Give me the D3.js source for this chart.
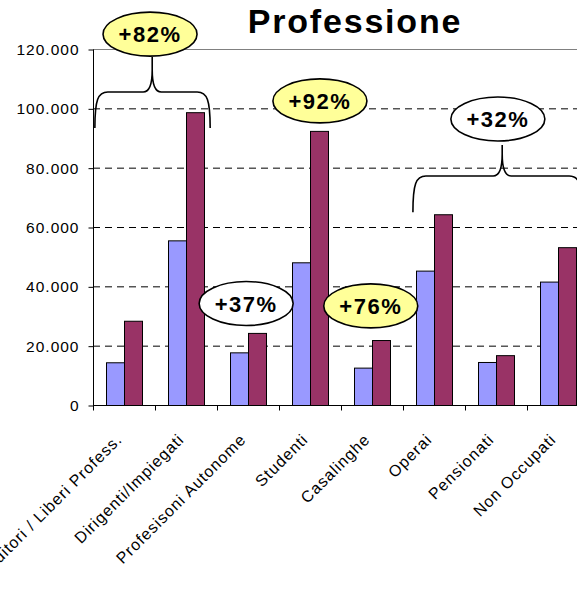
<!DOCTYPE html>
<html>
<head>
<meta charset="utf-8">
<script src="https://cdn.jsdelivr.net/npm/d3@7"></script>
<style>
  html, body { margin: 0; padding: 0; background: #fff; }
  svg { display: block; font-family: Arial, "Liberation Sans", sans-serif; }
</style>
</head>
<body>
<div id="chart"></div>
<script>
// dati
const categories = [
  "Imprenditori / Liberi Profess.",
  "Dirigenti/Impiegati",
  "Profesisoni Autonome",
  "Studenti",
  "Casalinghe",
  "Operai",
  "Pensionati",
  "Non Occupati"
];
const valoriPrima = [14400, 55500, 17750, 48100, 12600, 45300, 14500, 41600];
const valoriDopo = [28400, 98700, 24300, 92400, 21900, 64300, 16800, 53200];
const yTicks = [0, 20000, 40000, 60000, 80000, 100000, 120000];

// etichette delle variazioni: [indice categoria, valore]
const variazioni = [
  { label: "+82%", giallo: true, at: [0.92, 125000] },
  { label: "+92%", giallo: true, at: [3.66, 102500] },
  { label: "+37%", giallo: false, at: [2.47, 34200] },
  { label: "+76%", giallo: true, at: [4.48, 33400] },
  { label: "+32%", giallo: false, at: [6.53, 96400] }
];
// graffe: da, a, punta (indice categoria) e valori top/barra/fine
const graffe = [
  { from: 0.03, to: 1.89, mid: 0.955, top: 117300, bar: 105500, end: 93400 },
  { from: 5.16, to: 7.89, mid: 6.6, top: 87600, bar: 77200, end: 65000 }
];

const W = 577, H = 593;
const mLeft = 93, mBottom = 405, mTop = 49;
const band = 62;

const svg = d3.select("#chart").append("svg")
  .attr("width", W).attr("height", H);

const y = d3.scaleLinear().domain([0, 120000]).range([mBottom, mTop]);
const x = d3.scaleBand().domain(categories).range([mLeft, mLeft + band * categories.length]);
const xs = d3.scaleBand().domain([0, 1]).range([13, 49]);
const xi = d3.scaleLinear().domain([0, categories.length]).range([mLeft, mLeft + band * categories.length]);

// titolo
svg.append("text")
  .attr("x", 355).attr("y", 33)
  .attr("text-anchor", "middle")
  .style("font-size", "34px").style("font-weight", "bold")
  .style("letter-spacing", "1.8px")
  .text("Professione");

// griglia
svg.append("g").selectAll("line")
  .data(yTicks.filter(d => d > 0))
  .join("line")
  .attr("x1", mLeft).attr("x2", W)
  .attr("y1", d => y(d) + 0.5).attr("y2", d => y(d) + 0.5)
  .attr("stroke", d => d === 120000 ? "#808080" : "#000")
  .attr("stroke-dasharray", d => d === 120000 ? null : "7,5");

// barre
const gruppi = svg.append("g").selectAll("g")
  .data(categories)
  .join("g")
  .attr("transform", d => `translate(${x(d)},0)`);

gruppi.append("rect")
  .attr("x", xs(0) + 0.5)
  .attr("y", (d, i) => y(valoriPrima[i]) + 0.5)
  .attr("width", xs.bandwidth())
  .attr("height", (d, i) => mBottom - y(valoriPrima[i]))
  .attr("fill", "#9999FF").attr("stroke", "#000");

gruppi.append("rect")
  .attr("x", xs(1) + 0.5)
  .attr("y", (d, i) => y(valoriDopo[i]) + 0.5)
  .attr("width", xs.bandwidth())
  .attr("height", (d, i) => mBottom - y(valoriDopo[i]))
  .attr("fill", "#993366").attr("stroke", "#000");

// asse y
const yAxis = svg.append("g")
  .attr("transform", `translate(${mLeft + 0.5},0.5)`)
  .call(d3.axisLeft(y).tickValues(yTicks).tickSize(5).tickPadding(9)
    .tickFormat(d => d === 0 ? "0" : d3.format(",")(d).replace(/,/g, ".")));
yAxis.attr("font-size", null).attr("font-family", null);
yAxis.select(".domain").attr("d", `M0,${mTop}V${mBottom}`);
yAxis.selectAll("text")
  .style("font-size", "15.5px").style("letter-spacing", "1px")
  .attr("fill", "#000");

// asse x
const xAxis = svg.append("g")
  .attr("transform", `translate(0,${mBottom + 0.5})`);
xAxis.append("line").attr("x1", mLeft).attr("x2", W).attr("stroke", "#000");
xAxis.selectAll(".tk")
  .data(d3.range(categories.length + 1))
  .join("line")
  .attr("class", "tk")
  .attr("x1", d => xi(d) + 0.5).attr("x2", d => xi(d) + 0.5)
  .attr("y1", 0).attr("y2", 5)
  .attr("stroke", "#000");
xAxis.selectAll("text")
  .data(categories)
  .join("text")
  .attr("text-anchor", "end")
  .style("font-size", "16px").style("letter-spacing", "1px")
  .attr("transform", d => `translate(${x(d) + band / 2 - 1},35) rotate(-45)`)
  .text(d => d);

// graffe
function graffa(x0, x1, xm, yt, yb, ye) {
  return `M${x0},${ye} C${x0},${yb + 8} ${x0 + 3},${yb} ${x0 + 13},${yb}` +
    ` L${xm - 9},${yb} C${xm - 3},${yb} ${xm},${yb - 8} ${xm},${yb - 22} L${xm},${yt}` +
    ` M${xm},${yb - 22} C${xm},${yb - 8} ${xm + 3},${yb} ${xm + 9},${yb}` +
    ` L${x1 - 13},${yb} C${x1 - 3},${yb} ${x1},${yb + 8} ${x1},${ye}`;
}
svg.append("g").selectAll("path")
  .data(graffe)
  .join("path")
  .attr("d", d => graffa(xi(d.from), xi(d.to), xi(d.mid), y(d.top), y(d.bar), y(d.end)))
  .attr("fill", "none").attr("stroke", "#000").attr("stroke-width", 1.6);

// ellissi con variazioni
const ell = svg.append("g").selectAll("g")
  .data(variazioni)
  .join("g")
  .attr("transform", d => `translate(${xi(d.at[0])},${y(d.at[1])})`);
ell.append("ellipse")
  .attr("rx", 47).attr("ry", 22)
  .attr("fill", d => d.giallo ? "#FFFF99" : "#fff")
  .attr("stroke", "#000").attr("stroke-width", 1.6);
ell.append("text")
  .attr("text-anchor", "middle")
  .attr("y", 8)
  .style("font-size", "22px").style("font-weight", "bold")
  .style("letter-spacing", "1.5px")
  .text(d => d.label);
</script>
</body>
</html>
